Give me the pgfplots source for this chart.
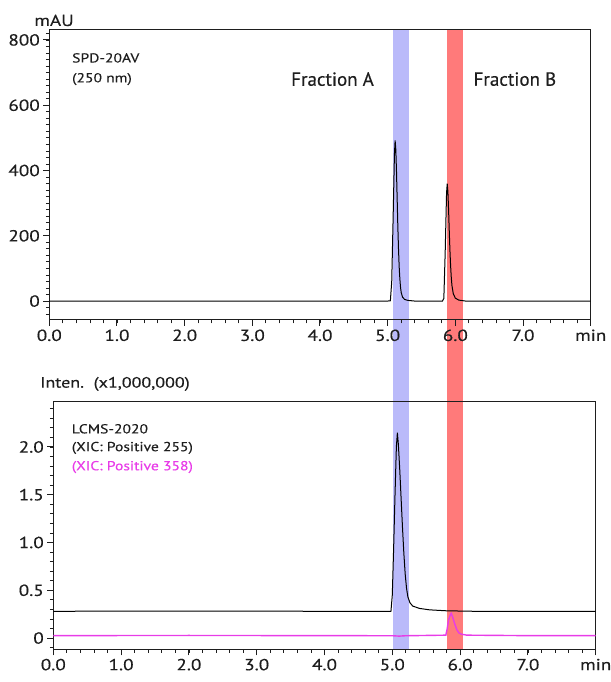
\documentclass[border=0pt]{standalone}
\usepackage{fontspec}
\setmainfont{PT Sans}[FakeBold=0.3]
\newfontfamily\widefont{PT Sans}[FakeStretch=1.2,FakeBold=0.3]
\usepackage{pgfplots}
\pgfplotsset{compat=1.18}
\pgfdeclarelayer{background}
\pgfsetlayers{background,main}
\definecolor{bandblue}{RGB}{186,186,250}
\definecolor{bandred}{RGB}{255,122,122}
\definecolor{magline}{RGB}{232,60,232}
\definecolor{axcol}{RGB}{30,30,30}

\pgfplotstableread{
t v
0.00 0
4.00 0
5.00 0
5.04 1
5.06 60
5.08 250
5.10 450
5.11 492
5.12 465
5.13 400
5.14 315
5.15 230
5.16 160
5.17 105
5.18 68
5.19 42
5.20 26
5.22 12
5.25 5
5.30 2
5.40 0
5.81 0
5.83 8
5.85 150
5.87 330
5.88 360
5.89 335
5.90 280
5.91 215
5.92 155
5.93 108
5.94 72
5.95 47
5.97 22
6.00 9
6.05 3
6.15 0
8.00 0
}\uvtrace

\pgfplotstableread{
t v
0.00 0.280
2.00 0.282
4.00 0.280
4.98 0.280
5.00 0.45
5.02 0.95
5.04 1.50
5.06 2.00
5.075 2.15
5.09 2.02
5.11 1.76
5.13 1.46
5.15 1.16
5.17 0.89
5.19 0.67
5.21 0.52
5.23 0.43
5.26 0.37
5.30 0.335
5.40 0.310
5.55 0.295
5.80 0.285
6.20 0.280
8.00 0.278
}\xicA

\pgfplotstableread{
t v
0.00 0.025
2.00 0.027
4.00 0.025
5.00 0.024
5.10 0.020
5.20 0.024
5.79 0.030
5.81 0.100
5.83 0.190
5.86 0.250
5.87 0.258
5.89 0.220
5.92 0.150
5.95 0.090
5.98 0.055
6.02 0.040
6.10 0.030
7.00 0.025
8.00 0.025
}\xicB

\pgfplotsset{chrom/.style={
  scale only axis,
  anchor=south west,
  clip=false,
  axis line style={line width=1bp, axcol},
  every tick/.style={axcol, line width=1bp},
  every minor tick/.style={axcol, line width=0.8bp},
  tick align=outside,
  xtick pos=left, ytick pos=left,
  major tick length=6bp, minor tick length=3.5bp,
  xmin=0, xmax=8,
  xtick={0,1,2,3,4,5,6,7,8},
  xticklabels={0.0,1.0,2.0,3.0,4.0,5.0,6.0,7.0,min},
  minor xtick={0.2,0.4,...,7.81},
  tick label style={font=\widefont\fontsize{16bp}{19bp}\selectfont, text=axcol},
  /pgf/number format/assume math mode=true,
}}

\begin{document}
\begin{tikzpicture}
\path[use as bounding box] (0,0) rectangle (611bp,682bp);

\begin{axis}[chrom, at={(49.3bp,362bp)},
  width=541.4bp, height=290.5bp,
  ymin=-58, ymax=832,
  ytick={0,200,400,600,800}, yticklabels={0,200,400,600,800},
  minor ytick={-40,-20,...,820}]
  \addplot[black, line width=1bp, mark=none] table[x=t,y=v] {\uvtrace};
  \coordinate (bA1) at (axis cs:5.08,832);
  \coordinate (bA2) at (axis cs:5.32,832);
  \coordinate (bB1) at (axis cs:5.87,832);
  \coordinate (bB2) at (axis cs:6.12,832);
  \node[anchor=center, inner sep=0pt, font=\widefont\fontsize{16bp}{19bp}\selectfont, text=axcol] at (axis cs:0.07,860) {mAU};
  \node[anchor=west, inner sep=0pt, font=\widefont\fontsize{13bp}{16bp}\selectfont, text=axcol] at (axis cs:0.335,745) {SPD-20AV};
  \node[anchor=west, inner sep=0pt, font=\widefont\fontsize{13bp}{16bp}\selectfont, text=axcol] at (axis cs:0.335,680) {(250 nm)};
  \node[anchor=center, font=\fontsize{19bp}{22bp}\selectfont, text=axcol] at (axis cs:4.185,680) {Fraction A};
  \node[anchor=center, font=\fontsize{19bp}{22bp}\selectfont, text=axcol] at (axis cs:6.88,680) {Fraction B};
\end{axis}

\begin{axis}[chrom, at={(53.3bp,32.7bp)},
  width=542.4bp, height=247.6bp,
  ymin=-0.118, ymax=2.474,
  ytick={0,0.5,1,1.5,2}, yticklabels={0,0.5,1.0,1.5,2.0},
  minor ytick={-0.1,0,...,2.41}]
  \addplot[magline, line width=1.4bp, mark=none] table[x=t,y=v] {\xicB};
  \addplot[black, line width=1bp, mark=none] table[x=t,y=v] {\xicA};
  \coordinate (bot) at (rel axis cs:0,0);
  \node[anchor=west, inner sep=0pt, font=\widefont\fontsize{15bp}{18bp}\selectfont, text=axcol] at (axis cs:-0.196,2.66) {Inten.\ \ (x1,000,000)};
  \node[anchor=west, inner sep=0pt, font=\widefont\fontsize{13bp}{16bp}\selectfont, text=axcol] at (axis cs:0.27,2.19) {LCMS-2020};
  \node[anchor=west, inner sep=0pt, font=\widefont\fontsize{13bp}{16bp}\selectfont, text=axcol] at (axis cs:0.27,1.99) {(XIC: Positive 255)};
  \node[anchor=west, inner sep=0pt, font=\widefont\fontsize{13bp}{16bp}\selectfont, text=magline] at (axis cs:0.27,1.79) {(XIC: Positive 358)};
\end{axis}

\begin{pgfonlayer}{background}
  \fill[bandblue] (bA1) rectangle (bA2 |- bot);
  \fill[bandred] (bB1) rectangle (bB2 |- bot);
\end{pgfonlayer}
\end{tikzpicture}
\end{document}
